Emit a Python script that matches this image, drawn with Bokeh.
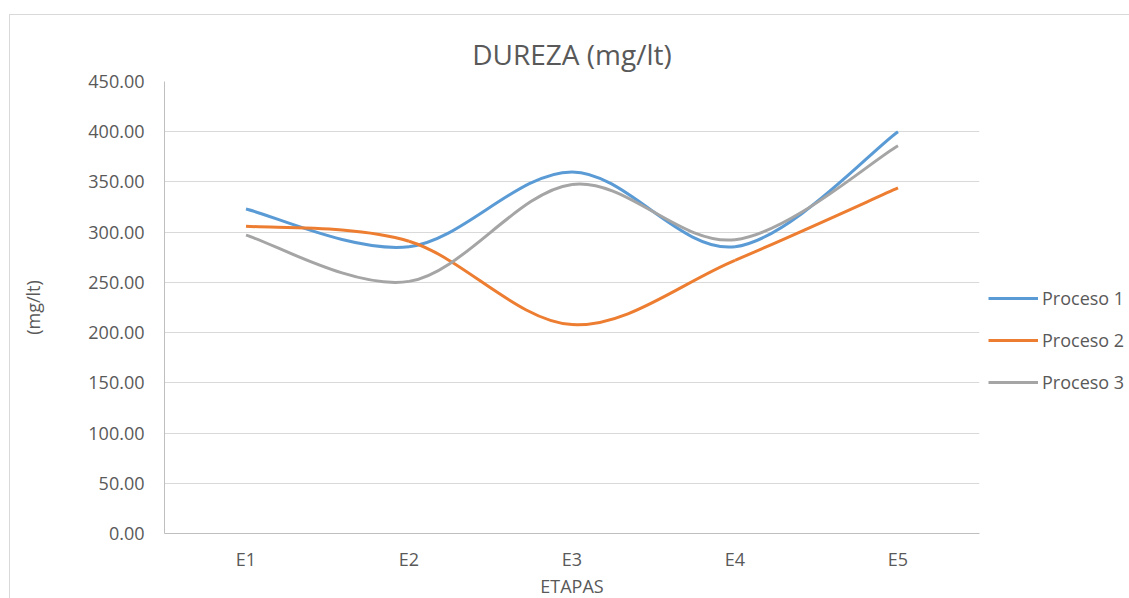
from bokeh.plotting import figure
from bokeh.models import (FixedTicker, NumeralTickFormatter, Legend, LegendItem,
                          ColumnDataSource, Range1d, Title)
from bokeh.embed import file_html
from bokeh.resources import INLINE

categories = ["E1", "E2", "E3", "E4", "E5"]
proceso1 = [323.0, 285.5, 360.0, 285.5, 400.0]
proceso2 = [306.0, 291.0, 208.0, 272.0, 344.0]
proceso3 = [297.0, 251.0, 347.5, 292.5, 386.0]
series_names = ["Proceso 1", "Proceso 2", "Proceso 3"]
colors = ["#5B9BD5", "#ED7D31", "#A5A5A5"]
y_ticks = [0, 50, 100, 150, 200, 250, 300, 350, 400, 450]

FONT = "Open Sans"
TXT = "#595959"

p = figure(frame_width=815, frame_height=452, output_backend="svg", toolbar_location=None,
           x_range=Range1d(0.5, len(categories) + 0.5), y_range=Range1d(0, 450),
           min_border_left=154, min_border_right=149, min_border_top=66,
           min_border_bottom=62, margin=(14, 0, 0, 9),
           styles={"border-left": "1px solid #d9d9d9", "border-top": "1px solid #d9d9d9"})

p.outline_line_color = None
p.background_fill_color = "white"
p.border_fill_color = "white"

p.title = Title(text="DUREZA (mg/lt)", align="center", text_font=FONT,
                text_font_size="28px", text_font_style="normal", text_color=TXT,
                standoff=17)

xs = list(range(1, len(categories) + 1))

def bezier_segments(ys):
    n = len(ys)
    pts = list(zip(xs, ys))
    out = dict(x0=[], y0=[], x1=[], y1=[], cx0=[], cy0=[], cx1=[], cy1=[])
    for i in range(n - 1):
        p0 = pts[i - 1] if i > 0 else pts[i]
        p1 = pts[i]
        p2 = pts[i + 1]
        p3 = pts[i + 2] if i + 2 < n else pts[i + 1]
        out["x0"].append(p1[0]); out["y0"].append(p1[1])
        out["x1"].append(p2[0]); out["y1"].append(p2[1])
        out["cx0"].append(p1[0] + (p2[0] - p0[0]) / 6.0)
        out["cy0"].append(p1[1] + (p2[1] - p0[1]) / 6.0)
        out["cx1"].append(p2[0] - (p3[0] - p1[0]) / 6.0)
        out["cy1"].append(p2[1] - (p3[1] - p1[1]) / 6.0)
    return out

items = []
for name, ys, c in zip(series_names, [proceso1, proceso2, proceso3], colors):
    src = ColumnDataSource(bezier_segments(ys))
    r = p.bezier(x0="x0", y0="y0", x1="x1", y1="y1", cx0="cx0", cy0="cy0",
                 cx1="cx1", cy1="cy1", source=src, line_color=c, line_width=3)
    items.append(LegendItem(label=name, renderers=[r]))

# axes
p.xaxis.ticker = FixedTicker(ticks=xs)
p.xaxis.major_label_overrides = {i + 1: c for i, c in enumerate(categories)}
p.yaxis.ticker = FixedTicker(ticks=y_ticks)
p.yaxis.formatter = NumeralTickFormatter(format="0.00")
for ax in (p.xaxis, p.yaxis):
    ax.major_tick_line_color = None
    ax.minor_tick_line_color = None
    ax.major_tick_out = 0
    ax.major_tick_in = 0
    ax.minor_tick_out = 0
    ax.axis_line_color = "#BFBFBF"
    ax.axis_line_width = 1
    ax.major_label_text_font = FONT
    ax.major_label_text_font_size = "18px"
    ax.major_label_text_color = TXT
    ax.axis_label_text_font = FONT
    ax.axis_label_text_font_size = "18px"
    ax.axis_label_text_color = TXT
    ax.axis_label_text_font_style = "normal"
p.xaxis.axis_label = "ETAPAS"
p.yaxis.axis_label = "(mg/lt)"
p.yaxis.major_label_standoff = 20
p.xaxis.major_label_standoff = 13
p.xaxis.axis_label_standoff = 0
p.yaxis.axis_label_standoff = 40

p.xgrid.grid_line_color = None
p.ygrid.grid_line_color = "#D9D9D9"
p.ygrid.grid_line_width = 1

legend = Legend(items=items, location=(9, 139), orientation="vertical",
                glyph_width=50, glyph_height=24, label_height=24, spacing=18,
                padding=0, margin=0, label_standoff=4, border_line_color=None,
                background_fill_alpha=0, label_text_font=FONT,
                label_text_font_size="18px", label_text_color=TXT)
p.add_layout(legend, "right")

open("out.html", "w").write(file_html(p, INLINE))
